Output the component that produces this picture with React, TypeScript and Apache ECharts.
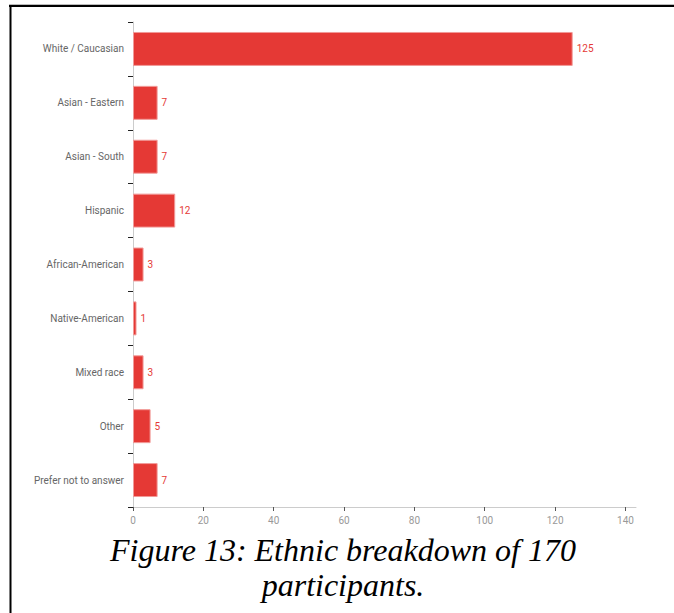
import React, { useEffect, useRef } from "react";
import * as echarts from "echarts";

const categories = [
  "White / Caucasian",
  "Asian - Eastern",
  "Asian - South",
  "Hispanic",
  "African-American",
  "Native-American",
  "Mixed race",
  "Other",
  "Prefer not to answer",
];
const counts = [125, 7, 7, 12, 3, 1, 3, 5, 7];
const xTicks = [0, 20, 40, 60, 80, 100, 120, 140];
const captionLines = ["Figure 13: Ethnic breakdown of 170", "participants."];

export default function App() {
  const ref = useRef<HTMLDivElement>(null);
  useEffect(() => {
    if (!ref.current) return;
    const chart = echarts.init(ref.current, undefined, { renderer: "svg" });
    const captionFont = 'italic 32px "Liberation Serif"';
    chart.setOption({
      animation: false,
      backgroundColor: "#fff",
      grid: { left: 133, top: 22, right: 38, bottom: 106, containLabel: false },
      xAxis: {
        type: "value",
        min: 0,
        max: 143,
        interval: 20,
        axisLine: { show: true, lineStyle: { color: "#ccc", width: 1 } },
        axisTick: { show: true, length: 4, lineStyle: { color: "#555" }, customValues: xTicks },
        axisLabel: { color: "#999", fontSize: 10, fontFamily: "Roboto", margin: 8, customValues: xTicks },
        splitLine: { show: false },
      },
      yAxis: {
        type: "category",
        data: categories,
        inverse: true,
        axisLine: { show: true, lineStyle: { color: "#ccc", width: 1 } },
        axisTick: { show: true, length: 5, lineStyle: { color: "#222" } },
        axisLabel: { color: "#666", fontSize: 10, fontFamily: "Roboto", margin: 9 },
      },
      series: [
        {
          type: "bar",
          data: counts,
          barCategoryGap: "37%",
          itemStyle: { color: "#e53935", borderColor: "#f19a98", borderWidth: 1 },
          label: {
            show: true,
            position: "right",
            distance: 4,
            color: "#e53935",
            fontSize: 10,
            fontFamily: "Roboto",
          },
        },
      ],
      graphic: [
        { type: "line", shape: { x1: 9, y1: 4.5, x2: 674, y2: 4.5 }, style: { stroke: "#bbb", lineWidth: 1 } },
        { type: "line", shape: { x1: 9, y1: 6, x2: 674, y2: 6 }, style: { stroke: "#000", lineWidth: 2 } },
        { type: "line", shape: { x1: 10.5, y1: 5, x2: 10.5, y2: 613 }, style: { stroke: "#000", lineWidth: 2 } },
        {
          type: "text",
          x: 343,
          y: 550,
          style: {
            text: captionLines[0],
            fill: "#000",
            font: captionFont,
            align: "center",
            verticalAlign: "middle",
          },
        },
        {
          type: "text",
          x: 343,
          y: 585,
          style: {
            text: captionLines[1],
            fill: "#000",
            font: captionFont,
            align: "center",
            verticalAlign: "middle",
          },
        },
      ],
    });
    return () => chart.dispose();
  }, []);
  return (
    <div
      ref={ref}
      style={{ position: "fixed", left: 0, top: 0, width: 674, height: 613 }}
    />
  );
}
